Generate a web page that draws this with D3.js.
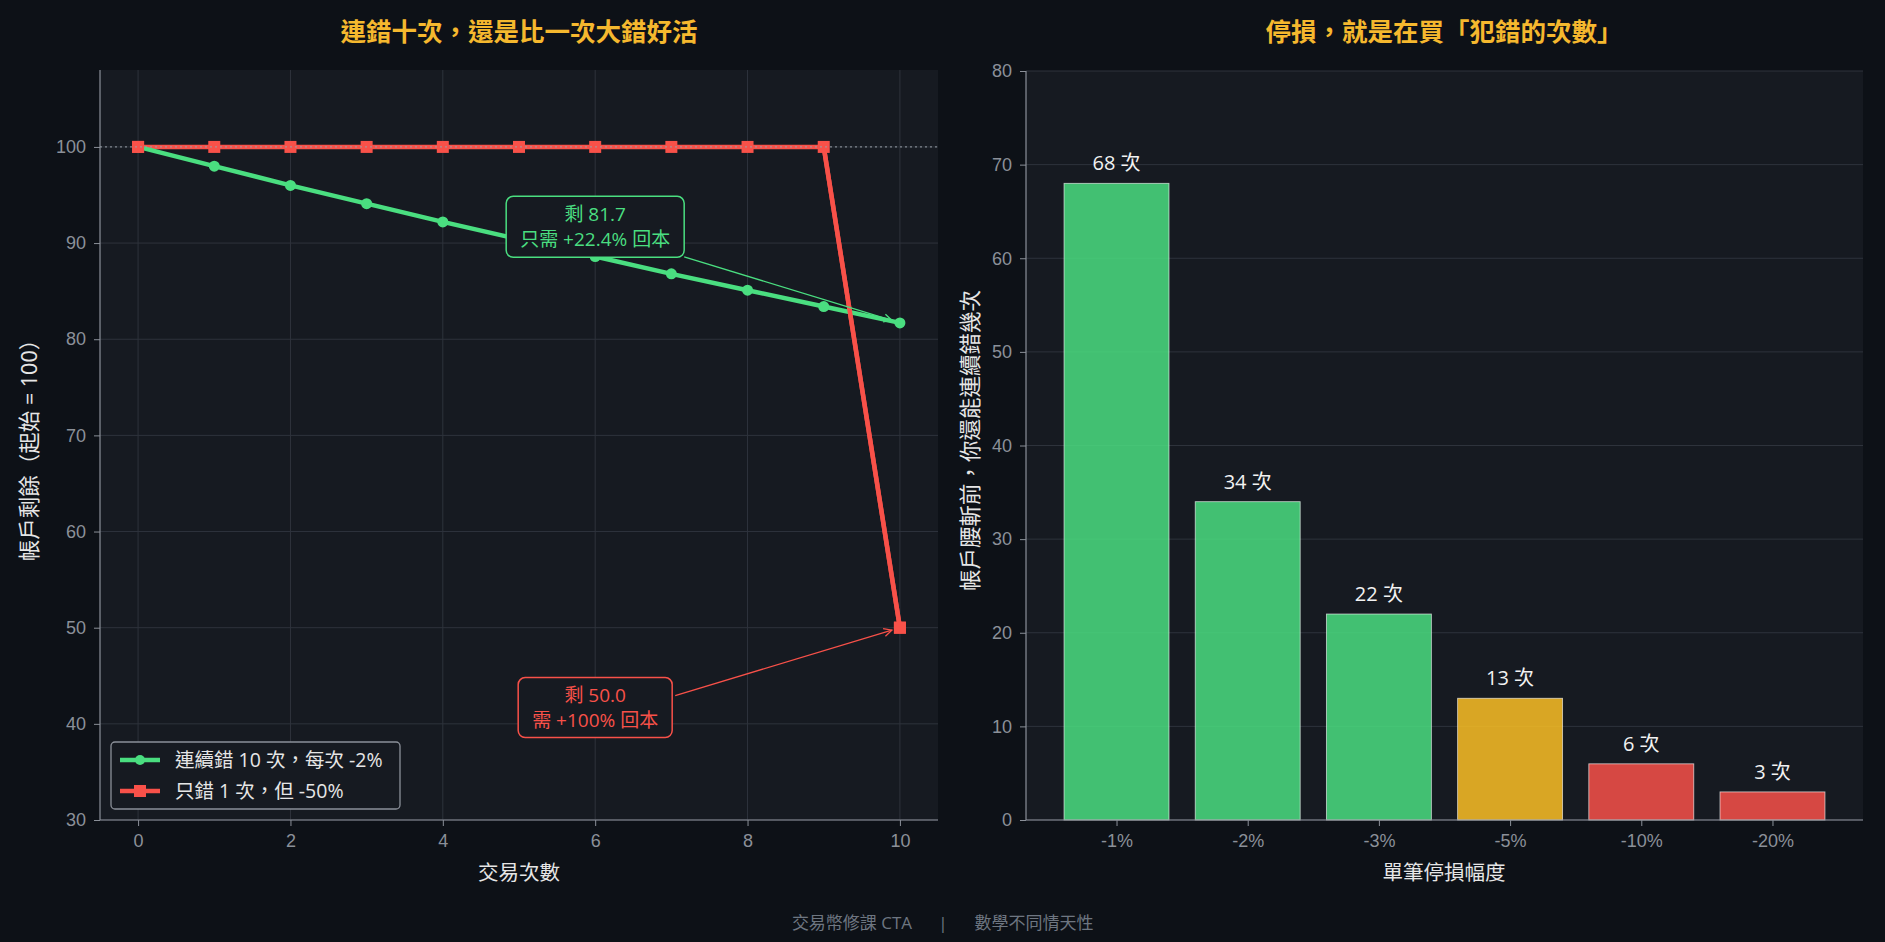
<!DOCTYPE html>
<html lang="zh-Hant-TW">
<head>
<meta charset="utf-8">
<script src="https://cdn.jsdelivr.net/npm/d3@7"></script>
<style>
  html, body { margin: 0; padding: 0; background: #0d1117; }
  svg { display: block; font-family: "Open Sans", "Noto Sans CJK TC", sans-serif; }
</style>
</head>
<body>
<div id="chart"></div>
<script>
// ---- data ----
let trades = [0, 1, 2, 3, 4, 5, 6, 7, 8, 9, 10];
let smallLoss = [100, 98.0, 96.0, 94.1, 92.2, 90.4, 88.6, 86.8, 85.1, 83.4, 81.7];
let bigLoss = [100, 100, 100, 100, 100, 100, 100, 100, 100, 100, 50];
let seriesNames = ["連續錯 10 次，每次 -2%", "只錯 1 次，但 -50%"];
let stopCats = ["-1%", "-2%", "-3%", "-5%", "-10%", "-20%"];
let stopCounts = [68, 34, 22, 13, 6, 3];
let leftXTicks = [0, 2, 4, 6, 8, 10];
let leftYTicks = [30, 40, 50, 60, 70, 80, 90, 100];
let rightYTicks = [0, 10, 20, 30, 40, 50, 60, 70, 80];

let width = 1885, height = 942;
let bg = "#0d1117", panel = "#161a21", gridC = "#2e333c", spineC = "#8b9099", tickC = "#8b9099";
let green = "#4ade80", red = "#f85149", gold = "#fbbf24", titleC = "#f5b82e";
let barColors = [green, green, green, gold, red, red];

let svg = d3.select("#chart").append("svg")
    .attr("width", width).attr("height", height);
svg.append("rect").attr("width", width).attr("height", height).attr("fill", bg);

// ---------------- left panel ----------------
let L = {left: 100, right: 938, top: 70, bottom: 820};
let x = d3.scaleLinear().domain([-0.5, 10.5]).range([L.left, L.right]);
let y = d3.scaleLinear().domain([30, 108]).range([L.bottom, L.top]);

let gl = svg.append("g");
gl.append("rect").attr("x", L.left).attr("y", L.top)
    .attr("width", L.right - L.left).attr("height", L.bottom - L.top).attr("fill", panel);

// grid
gl.append("g").selectAll("line").data(leftXTicks).join("line")
    .attr("x1", d => x(d)).attr("x2", d => x(d)).attr("y1", L.top).attr("y2", L.bottom)
    .attr("stroke", gridC).attr("stroke-width", 1);
gl.append("g").selectAll("line").data(leftYTicks).join("line")
    .attr("x1", L.left).attr("x2", L.right).attr("y1", d => y(d)).attr("y2", d => y(d))
    .attr("stroke", gridC).attr("stroke-width", 1);

// axes
let xAxisL = gl.append("g").attr("transform", `translate(0,${L.bottom})`)
    .call(d3.axisBottom(x).tickValues(leftXTicks).tickSize(6).tickPadding(8));
let yAxisL = gl.append("g").attr("transform", `translate(${L.left},0)`)
    .call(d3.axisLeft(y).tickValues(leftYTicks).tickSize(6).tickPadding(8));
[xAxisL, yAxisL].forEach(a => {
    a.select(".domain").attr("stroke", spineC).attr("stroke-width", 1.2);
    a.selectAll(".tick line").attr("stroke", spineC);
    a.selectAll(".tick text").attr("fill", tickC).style("font-size", "18px");
});
xAxisL.select(".domain").attr("d", `M${L.left},0H${L.right}`);
yAxisL.select(".domain").attr("d", `M0,${L.bottom}V${L.top}`);

// lines
let lineGen = d3.line().x((d, i) => x(trades[i])).y(d => y(d));
gl.append("path").datum(bigLoss).attr("d", lineGen)
    .attr("fill", "none").attr("stroke", red).attr("stroke-width", 4.5).attr("stroke-linejoin", "round");
gl.append("g").selectAll("rect").data(bigLoss).join("rect")
    .attr("x", (d, i) => x(trades[i]) - 6).attr("y", d => y(d) - 6)
    .attr("width", 12).attr("height", 12).attr("fill", red);
gl.append("path").datum(smallLoss).attr("d", lineGen)
    .attr("fill", "none").attr("stroke", green).attr("stroke-width", 4.5).attr("stroke-linejoin", "round");
gl.append("g").selectAll("circle").data(smallLoss).join("circle")
    .attr("cx", (d, i) => x(trades[i])).attr("cy", d => y(d)).attr("r", 5.5).attr("fill", green);
// keep red start marker and the steep drop above the green line
gl.append("rect").attr("x", x(0) - 6).attr("y", y(bigLoss[0]) - 6).attr("width", 12).attr("height", 12).attr("fill", red);
gl.append("line").attr("x1", x(9)).attr("y1", y(bigLoss[9])).attr("x2", x(10)).attr("y2", y(bigLoss[10]))
    .attr("stroke", red).attr("stroke-width", 4.5);
gl.append("rect").attr("x", x(10) - 6).attr("y", y(bigLoss[10]) - 6).attr("width", 12).attr("height", 12).attr("fill", red);

// reference line at 100 (on top)
gl.append("line").attr("x1", L.left).attr("x2", L.right)
    .attr("y1", y(100)).attr("y2", y(100))
    .attr("stroke", "#9aa0a8").attr("stroke-opacity", 0.8).attr("stroke-width", 1.2).attr("stroke-dasharray", "2,3");

// annotations
svg.append("defs").html(`
  <marker id="arrG" viewBox="0 0 10 10" refX="9" refY="5" markerWidth="10" markerHeight="10" orient="auto" markerUnits="userSpaceOnUse">
    <path d="M1,1 L9,5 L1,9" fill="none" stroke="${green}" stroke-width="1.3"/></marker>
  <marker id="arrR" viewBox="0 0 10 10" refX="9" refY="5" markerWidth="10" markerHeight="10" orient="auto" markerUnits="userSpaceOnUse">
    <path d="M1,1 L9,5 L1,9" fill="none" stroke="${red}" stroke-width="1.3"/></marker>`);

function annot(lines, cx, cy, tx, ty, color, marker, w, h, from) {
    gl.append("line").attr("x1", from[0]).attr("y1", from[1])
        .attr("x2", tx - 8).attr("y2", ty - (ty - from[1]) * 8 / (tx - from[0]))
        .attr("stroke", color).attr("stroke-width", 1.3).attr("marker-end", `url(#${marker})`);
    gl.append("rect").attr("x", cx - w / 2).attr("y", cy - h / 2).attr("width", w).attr("height", h)
        .attr("rx", 7).attr("fill", panel).attr("stroke", color).attr("stroke-width", 1.5);
    gl.append("text").attr("x", cx).attr("y", cy - 6).attr("text-anchor", "middle")
        .attr("fill", color).style("font-size", "19px")
        .selectAll("tspan").data(lines).join("tspan")
        .attr("x", cx).attr("dy", (d, i) => i ? 25 : 0).text(d => d);
}
annot(["剩 81.7", "只需 +22.4% 回本"], x(6), y(91.9) + 2, x(10), y(smallLoss[10]), green, "arrG", 178, 61,
    [x(6) + 89, y(91.9) + 32]);
annot(["剩 50.0", "需 +100% 回本"], x(6), y(41.9) + 2, x(10), y(bigLoss[10]), red, "arrR", 154, 60,
    [x(6) + 80, y(41.9) - 10]);

// legend
let lg = gl.append("g").attr("transform", `translate(111,742)`);
lg.append("rect").attr("width", 289).attr("height", 67).attr("rx", 4)
    .attr("fill", panel).attr("stroke", "#8b9099").attr("stroke-width", 1.3);
seriesNames.forEach((name, i) => {
    let ry = 18 + i * 31;
    let c = i === 0 ? green : red;
    lg.append("line").attr("x1", 9).attr("x2", 49).attr("y1", ry).attr("y2", ry)
        .attr("stroke", c).attr("stroke-width", 4.5);
    if (i === 0) lg.append("circle").attr("cx", 29).attr("cy", ry).attr("r", 5).attr("fill", c);
    else lg.append("rect").attr("x", 23).attr("y", ry - 6).attr("width", 12).attr("height", 12).attr("fill", c);
    lg.append("text").attr("x", 64).attr("y", ry + 7).attr("fill", "#e6e6e6")
        .style("font-size", "19.5px").text(name);
});

// titles and labels
svg.append("text").attr("x", 519).attr("y", 41).attr("text-anchor", "middle")
    .attr("fill", titleC).style("font-size", "25.5px").style("font-weight", "bold")
    .text("連錯十次，還是比一次大錯好活");
svg.append("text").attr("x", 519).attr("y", 880).attr("text-anchor", "middle")
    .attr("fill", "#e6e6e6").style("font-size", "20.5px").text("交易次數");
svg.append("text").attr("transform", `translate(37,${(L.top + L.bottom) / 2}) rotate(-90)`)
    .attr("text-anchor", "middle").attr("fill", "#e6e6e6").style("font-size", "21.5px")
    .text("帳戶剩餘（起始 = 100）");

// ---------------- right panel ----------------
let R = {left: 1026, right: 1863, top: 71, bottom: 820};
let xb = d3.scaleLinear().domain([-0.69, 5.69]).range([R.left, R.right]);
let yb = d3.scaleLinear().domain([0, 80]).range([R.bottom, R.top]);
let bw = xb(0.4) - xb(-0.4);

let gr = svg.append("g");
gr.append("rect").attr("x", R.left).attr("y", R.top)
    .attr("width", R.right - R.left).attr("height", R.bottom - R.top).attr("fill", panel);
gr.append("g").selectAll("line").data(rightYTicks).join("line")
    .attr("x1", R.left).attr("x2", R.right).attr("y1", d => yb(d)).attr("y2", d => yb(d))
    .attr("stroke", gridC).attr("stroke-width", 1);

gr.append("g").selectAll("rect").data(stopCounts).join("rect")
    .attr("x", (d, i) => xb(i) - bw / 2).attr("y", d => yb(d))
    .attr("width", bw).attr("height", d => yb(0) - yb(d))
    .attr("fill", (d, i) => barColors[i]).attr("fill-opacity", 0.85)
    .attr("stroke", "rgba(255,255,255,0.65)").attr("stroke-width", 0.9);
gr.append("g").selectAll("text").data(stopCounts).join("text")
    .attr("x", (d, i) => xb(i)).attr("y", d => yb(d) - 13)
    .attr("text-anchor", "middle").attr("fill", "#f2f2f2").style("font-size", "20px")
    .text(d => d + " 次");

let xAxisR = gr.append("g").attr("transform", `translate(0,${R.bottom})`)
    .call(d3.axisBottom(xb).tickValues(d3.range(stopCats.length)).tickFormat(i => stopCats[i])
        .tickSize(6).tickPadding(8));
let yAxisR = gr.append("g").attr("transform", `translate(${R.left},0)`)
    .call(d3.axisLeft(yb).tickValues(rightYTicks).tickSize(6).tickPadding(8));
[xAxisR, yAxisR].forEach(a => {
    a.select(".domain").attr("stroke", spineC).attr("stroke-width", 1.2);
    a.selectAll(".tick line").attr("stroke", spineC);
    a.selectAll(".tick text").attr("fill", tickC).style("font-size", "18px");
});
xAxisR.select(".domain").attr("d", `M${R.left},0H${R.right}`);
yAxisR.select(".domain").attr("d", `M0,${R.bottom}V${R.top}`);

svg.append("text").attr("x", 1444).attr("y", 41).attr("text-anchor", "middle")
    .attr("fill", titleC).style("font-size", "25.5px").style("font-weight", "bold")
    .text("停損，就是在買「犯錯的次數」");
svg.append("text").attr("x", 1444).attr("y", 880).attr("text-anchor", "middle")
    .attr("fill", "#e6e6e6").style("font-size", "20.5px").text("單筆停損幅度");
svg.append("text").attr("transform", `translate(978,${(R.top + R.bottom) / 2 - 5}) rotate(-90)`)
    .attr("text-anchor", "middle").attr("fill", "#e6e6e6").style("font-size", "21.5px")
    .text("帳戶腰斬前，你還能連續錯幾次");

// footer
let footer = svg.append("text").attr("y", 929).attr("fill", "#6e7681").style("font-size", "17px")
    .attr("text-anchor", "middle");
footer.append("tspan").attr("x", 852).text("交易幣修課 CTA");
footer.append("tspan").attr("x", 943).text("|");
footer.append("tspan").attr("x", 1034).text("數學不同情天性");
</script>
</body>
</html>
